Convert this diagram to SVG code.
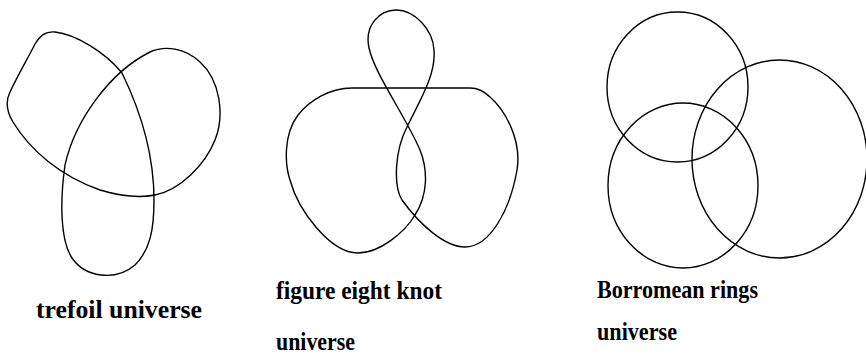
<svg xmlns="http://www.w3.org/2000/svg" width="866" height="360" viewBox="0 0 866 360">
<style>
.k{fill:none;stroke:#000;stroke-width:1.4}
text{font-family:"Liberation Serif","Times New Roman",serif;font-weight:bold;font-size:25px;fill:#000}
</style>
<rect width="866" height="360" fill="#fff"/>
<g id="trefoil">
<path class="k" d="M122,73 C105,52 75,34 55,32 C45,31 40,36 35,44 C28,58 18,75 10,92 C5,102 7,112 13,122 C30,150 60,176 100,190 C120,196 140,198 155,195 C180,190 205,165 215,140 C225,115 220,80 200,62 C185,48 165,45 150,52 C110,72 75,120 65,165 C60,200 60,240 72,258 C85,277 115,282 135,265 C150,250 154,230 154,200 C154,160 145,120 122,73 Z"/>
<text x="36" y="318" textLength="166" lengthAdjust="spacingAndGlyphs">trefoil universe</text>
</g>
<g id="figure-eight">
<path class="k" d="M470,88 L352,88 C330,88 310,100 298,115 C283,135 285,165 290,180 C298,210 330,253 358,253 C380,253 405,232 415,215 C428,195 428,170 420,150 C405,115 375,75 369,48 C364,25 380,10 396,10 C415,10 433,30 434,50 C436,75 420,100 407,127 C395,150 393,185 402,200 C420,225 445,247 465,247 C490,247 510,210 517,170 C522,140 505,110 490,97 C483,91 478,88 470,88 Z"/>
<text x="276" y="299" textLength="166" lengthAdjust="spacingAndGlyphs">figure eight knot</text>
<text x="276" y="350" textLength="79" lengthAdjust="spacingAndGlyphs">universe</text>
</g>
<g id="borromean">
<ellipse class="k" cx="677.5" cy="87" rx="70.5" ry="75"/>
<ellipse class="k" cx="683" cy="185.5" rx="75" ry="82.5"/>
<ellipse class="k" cx="779.5" cy="159" rx="87.5" ry="99"/>
<text x="597" y="298" textLength="161" lengthAdjust="spacingAndGlyphs">Borromean rings</text>
<text x="597" y="340" textLength="80" lengthAdjust="spacingAndGlyphs">universe</text>
</g>
</svg>
